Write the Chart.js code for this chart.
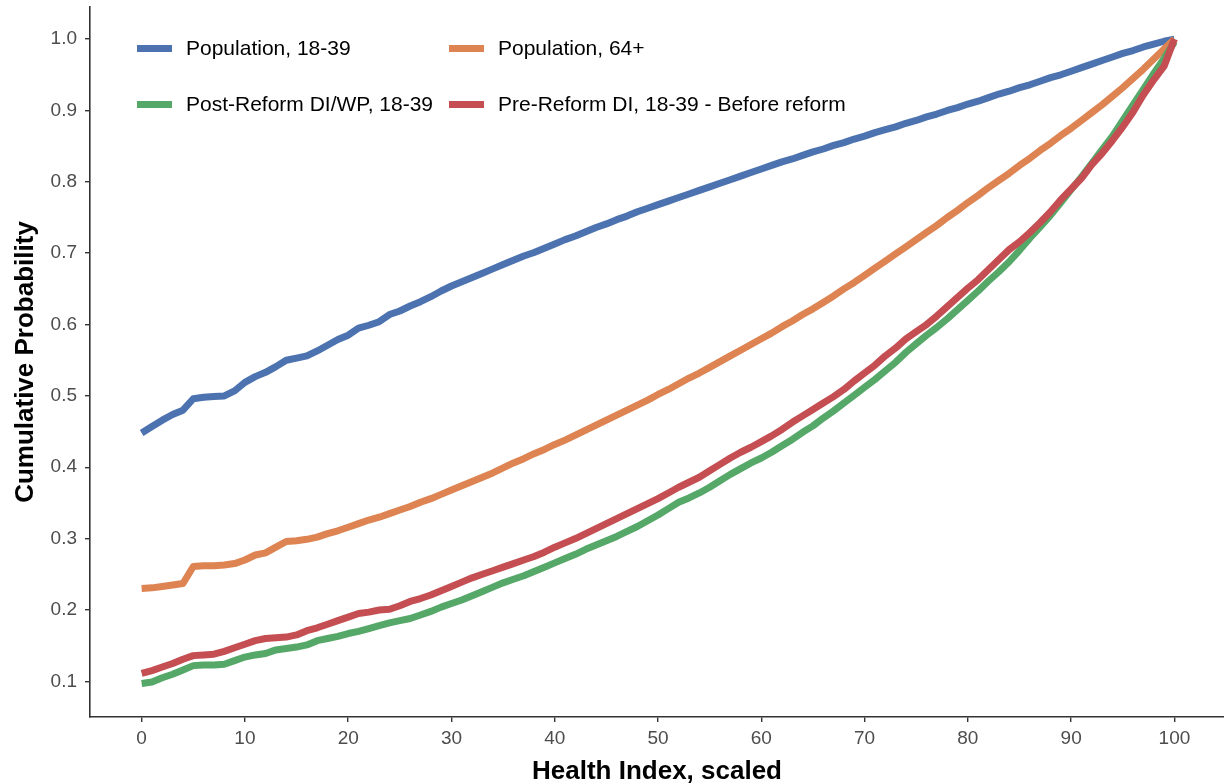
<!DOCTYPE html>
<html>
<head>
<meta charset="utf-8">
<title>Cumulative distribution of the health index</title>
<script src="https://cdn.jsdelivr.net/npm/chart.js@4.4.1/dist/chart.umd.min.js"></script>
<style>
  html, body { margin: 0; padding: 0; background: #ffffff; }
  #wrap { width: 1224px; height: 784px; position: relative; }
</style>
</head>
<body>
<div id="wrap"><canvas id="cdf"></canvas></div>
<script>
// Health index grid (scaled 0-100)
const healthIndex = [
  0, 1, 2, 3, 4, 5, 6, 7, 8, 9,
  10, 11, 12, 13, 14, 15, 16, 17, 18, 19,
  20, 21, 22, 23, 24, 25, 26, 27, 28, 29,
  30, 31, 32, 33, 34, 35, 36, 37, 38, 39,
  40, 41, 42, 43, 44, 45, 46, 47, 48, 49,
  50, 51, 52, 53, 54, 55, 56, 57, 58, 59,
  60, 61, 62, 63, 64, 65, 66, 67, 68, 69,
  70, 71, 72, 73, 74, 75, 76, 77, 78, 79,
  80, 81, 82, 83, 84, 85, 86, 87, 88, 89,
  90, 91, 92, 93, 94, 95, 96, 97, 98, 99,
  100
];

// Cumulative probability, population aged 18-39
const popYoung = [
  0.448, 0.457, 0.466, 0.474, 0.480, 0.496, 0.498, 0.499, 0.500, 0.507,
  0.519, 0.527, 0.533, 0.541, 0.550, 0.553, 0.556, 0.563, 0.571, 0.579,
  0.585, 0.595, 0.599, 0.604, 0.614, 0.619, 0.626, 0.632, 0.639, 0.647,
  0.654, 0.660, 0.666, 0.672, 0.678, 0.684, 0.690, 0.696, 0.701, 0.707,
  0.713, 0.719, 0.724, 0.730, 0.736, 0.741, 0.747, 0.752, 0.758, 0.763,
  0.768, 0.773, 0.778, 0.783, 0.788, 0.793, 0.798, 0.803, 0.808, 0.813,
  0.818, 0.823, 0.828, 0.832, 0.837, 0.842, 0.846, 0.851, 0.855, 0.860,
  0.864, 0.869, 0.873, 0.877, 0.882, 0.886, 0.891, 0.895, 0.900, 0.904,
  0.909, 0.913, 0.918, 0.923, 0.927, 0.932, 0.936, 0.941, 0.946, 0.950,
  0.955, 0.960, 0.965, 0.970, 0.975, 0.980, 0.984, 0.989, 0.993, 0.997,
  1.000
];

// Cumulative probability, population aged 64+
const popOld = [
  0.230, 0.231, 0.233, 0.235, 0.237, 0.261, 0.262, 0.262, 0.263, 0.265,
  0.270, 0.277, 0.280, 0.288, 0.296, 0.297, 0.299, 0.302, 0.307, 0.311,
  0.316, 0.321, 0.326, 0.330, 0.335, 0.340, 0.345, 0.351, 0.356, 0.362,
  0.368, 0.374, 0.380, 0.386, 0.392, 0.399, 0.406, 0.412, 0.419, 0.425,
  0.432, 0.438, 0.445, 0.452, 0.459, 0.466, 0.473, 0.480, 0.487, 0.494,
  0.502, 0.509, 0.517, 0.525, 0.532, 0.540, 0.548, 0.556, 0.564, 0.572,
  0.580, 0.588, 0.597, 0.605, 0.614, 0.622, 0.631, 0.640, 0.650, 0.659,
  0.669, 0.679, 0.689, 0.699, 0.709, 0.719, 0.729, 0.739, 0.750, 0.760,
  0.771, 0.781, 0.792, 0.802, 0.812, 0.823, 0.833, 0.844, 0.854, 0.865,
  0.875, 0.886, 0.897, 0.908, 0.920, 0.932, 0.945, 0.958, 0.972, 0.986,
  1.000
];

// Cumulative probability, post-reform DI/WP recipients aged 18-39
const postReform = [
  0.097, 0.099, 0.105, 0.110, 0.116, 0.122, 0.123, 0.123, 0.124, 0.129,
  0.134, 0.137, 0.139, 0.144, 0.146, 0.148, 0.151, 0.157, 0.160, 0.163,
  0.167, 0.170, 0.174, 0.178, 0.182, 0.185, 0.188, 0.193, 0.198, 0.204,
  0.209, 0.214, 0.220, 0.226, 0.232, 0.238, 0.243, 0.248, 0.254, 0.260,
  0.266, 0.272, 0.278, 0.285, 0.291, 0.297, 0.303, 0.310, 0.317, 0.325,
  0.333, 0.342, 0.351, 0.357, 0.364, 0.372, 0.381, 0.390, 0.398, 0.406,
  0.413, 0.421, 0.430, 0.439, 0.449, 0.458, 0.469, 0.479, 0.490, 0.501,
  0.512, 0.523, 0.535, 0.547, 0.561, 0.573, 0.585, 0.596, 0.608, 0.621,
  0.634, 0.647, 0.661, 0.674, 0.688, 0.704, 0.721, 0.737, 0.753, 0.771,
  0.789, 0.807, 0.826, 0.845, 0.864, 0.886, 0.908, 0.930, 0.952, 0.973,
  0.996
];

// Cumulative probability, pre-reform DI recipients aged 18-39
const preReform = [
  0.111, 0.115, 0.120, 0.125, 0.131, 0.136, 0.137, 0.138, 0.142, 0.147,
  0.152, 0.157, 0.160, 0.161, 0.162, 0.165, 0.171, 0.175, 0.180, 0.185,
  0.190, 0.195, 0.197, 0.200, 0.201, 0.206, 0.212, 0.216, 0.221, 0.227,
  0.233, 0.239, 0.245, 0.250, 0.255, 0.260, 0.265, 0.270, 0.275, 0.281,
  0.288, 0.294, 0.300, 0.307, 0.314, 0.321, 0.328, 0.335, 0.342, 0.349,
  0.356, 0.364, 0.372, 0.379, 0.386, 0.395, 0.404, 0.413, 0.421, 0.428,
  0.436, 0.444, 0.453, 0.463, 0.472, 0.481, 0.490, 0.499, 0.509, 0.521,
  0.532, 0.543, 0.556, 0.567, 0.580, 0.590, 0.600, 0.612, 0.625, 0.638,
  0.651, 0.663, 0.677, 0.691, 0.705, 0.716, 0.729, 0.743, 0.758, 0.775,
  0.790, 0.805, 0.824, 0.840, 0.858, 0.877, 0.898, 0.922, 0.943, 0.962,
  1.000
];

const seriesLabels = [
  'Population, 18-39',
  'Population, 64+',
  'Post-Reform DI/WP, 18-39',
  'Pre-Reform DI, 18-39 - Before reform'
];
const seriesColors = ['#4C72B0', '#DD8452', '#55A868', '#C44E52'];

const xTickValues = [0, 10, 20, 30, 40, 50, 60, 70, 80, 90, 100];
const yTickValues = [0.1, 0.2, 0.3, 0.4, 0.5, 0.6, 0.7, 0.8, 0.9, 1.0];

const xTitle = 'Health Index, scaled';
const yTitle = 'Cumulative Probability';

const toPoints = (ys) => healthIndex.map((x, i) => ({ x: x, y: ys[i] }));
const seriesValues = [popYoung, popOld, postReform, preReform];

// Later series sit on top (red over green where they overlap)
const datasets = seriesValues.map((ys, i) => ({
  label: seriesLabels[i],
  data: toPoints(ys),
  borderColor: seriesColors[i],
  backgroundColor: seriesColors[i],
  borderWidth: 7,
  borderCapStyle: 'butt',
  borderJoinStyle: 'round',
  pointRadius: 0,
  pointHoverRadius: 0,
  tension: 0,
  fill: false,
  order: seriesValues.length - i
}));

// Two-column key placed inside the top-left of the plotting panel
const panelLegend = {
  id: 'panelLegend',
  afterDatasetsDraw(chart) {
    const { ctx, chartArea } = chart;
    const colX = [chartArea.left + 47, chartArea.left + 359];
    const rowY = [chartArea.top + 41.5, chartArea.top + 97.5];
    const keyLen = 35, textGap = 14;
    ctx.save();
    ctx.font = '21px "Liberation Sans", Arial, sans-serif';
    ctx.textBaseline = 'middle';
    ctx.textAlign = 'left';
    chart.data.datasets.forEach((ds, i) => {
      const x = colX[i % 2];
      const y = rowY[Math.floor(i / 2)];
      ctx.strokeStyle = ds.borderColor;
      ctx.lineWidth = 7;
      ctx.lineCap = 'butt';
      ctx.beginPath();
      ctx.moveTo(x, y);
      ctx.lineTo(x + keyLen, y);
      ctx.stroke();
      ctx.fillStyle = '#000000';
      ctx.fillText(ds.label, x + keyLen + textGap, y + 1);
    });
    ctx.restore();
  }
};

const axisColor = '#333333';
const tickColor = '#4d4d4d';

new Chart(document.getElementById('cdf'), {
  type: 'line',
  data: { datasets: datasets },
  plugins: [panelLegend],
  options: {
    responsive: true,
    maintainAspectRatio: false,
    animation: false,
    layout: { padding: { top: 7, right: 0, left: 0, bottom: 0 } },
    plugins: {
      legend: { display: false },
      tooltip: { enabled: false },
      title: { display: false }
    },
    scales: {
      x: {
        type: 'linear',
        min: -5,
        max: 104.8,
        afterBuildTicks: (axis) => { axis.ticks = xTickValues.map(v => ({ value: v })); },
        afterFit: (scale) => {
          scale.height = 67;
          scale.paddingLeft = 0;
          scale.paddingRight = 0;
        },
        border: { display: true, color: axisColor, width: 1.6 },
        grid: {
          display: true,
          drawOnChartArea: false,
          drawTicks: true,
          tickLength: 5,
          color: axisColor,
          lineWidth: 1.4
        },
        ticks: {
          color: tickColor,
          font: { family: '"Liberation Sans", Arial, sans-serif', size: 19 },
          padding: 5,
          maxRotation: 0,
          callback: (v) => String(v)
        },
        title: {
          display: true,
          text: xTitle,
          color: '#000000',
          font: { family: '"Liberation Sans", Arial, sans-serif', size: 26, weight: 'bold' },
          padding: { top: 0, bottom: -3 }
        }
      },
      y: {
        type: 'linear',
        min: 0.05,
        max: 1.045,
        afterBuildTicks: (axis) => { axis.ticks = yTickValues.map(v => ({ value: v })); },
        afterFit: (scale) => {
          scale.width = 90;
          scale.paddingTop = 0;
          scale.paddingBottom = 0;
        },
        border: { display: true, color: axisColor, width: 1.6 },
        grid: {
          display: true,
          drawOnChartArea: false,
          drawTicks: true,
          tickLength: 5,
          color: axisColor,
          lineWidth: 1.4
        },
        ticks: {
          color: tickColor,
          font: { family: '"Liberation Sans", Arial, sans-serif', size: 19 },
          padding: 8,
          callback: (v) => Number(v).toFixed(1)
        },
        title: {
          display: true,
          text: yTitle,
          color: '#000000',
          font: { family: '"Liberation Sans", Arial, sans-serif', size: 26, weight: 'bold' },
          padding: { top: 10, bottom: 0 }
        }
      }
    }
  }
});
</script>
</body>
</html>
